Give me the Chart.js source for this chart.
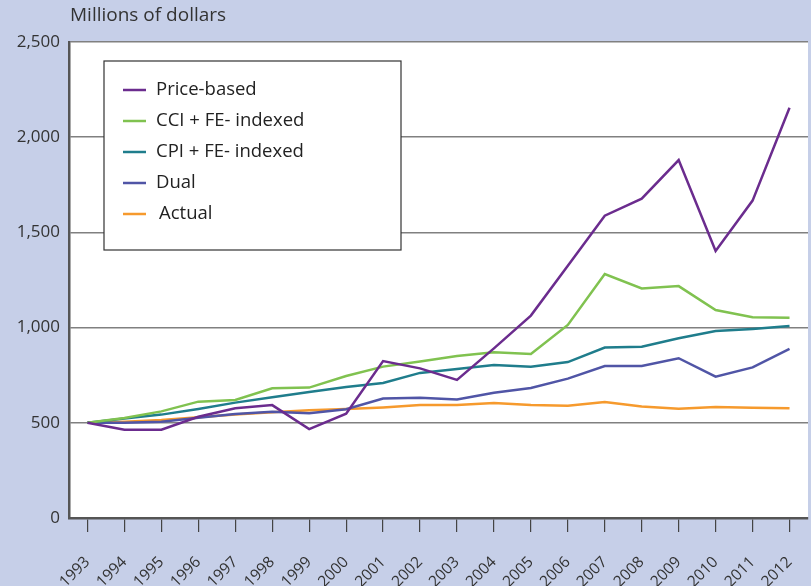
<!DOCTYPE html>
<html>
<head>
<meta charset="utf-8">
<script src="https://cdn.jsdelivr.net/npm/chart.js@4"></script>
<style>
    html, body { margin: 0; padding: 0; background: #c6cfe8; overflow: hidden; }
    #wrap { position: relative; width: 811px; height: 586px; }
</style>
</head>
<body>
<div id="wrap"><canvas id="chart" width="811" height="586"></canvas></div>
<script>
var years = ['1993', '1994', '1995', '1996', '1997', '1998', '1999', '2000', '2001', '2002',
    '2003', '2004', '2005', '2006', '2007', '2008', '2009', '2010', '2011', '2012'];

var priceBased = [500, 464, 464, 532, 576, 593, 467, 548, 824, 786,
    725, 891, 1063, 1325, 1588, 1677, 1880, 1402, 1667, 2155];
var cciIndexed = [500, 525, 560, 611, 620, 681, 685, 746, 795, 822,
    851, 870, 861, 1014, 1281, 1206, 1218, 1092, 1054, 1052];
var cpiIndexed = [500, 522, 543, 573, 606, 634, 662, 688, 709, 762,
    782, 804, 795, 819, 895, 900, 944, 982, 993, 1008];
var dual = [500, 500, 506, 527, 546, 558, 550, 571, 627, 632,
    622, 658, 683, 732, 798, 798, 839, 742, 791, 888];
var actual = [500, 506, 515, 529, 543, 555, 566, 572, 581, 593,
    594, 604, 593, 590, 609, 586, 574, 583, 579, 576];

var yTicks = [0, 500, 1000, 1500, 2000, 2500];

var FONT = '"Open Sans", "DejaVu Sans", sans-serif';

function series(label, data, color) {
    return {
        label: label,
        data: data,
        borderColor: color,
        backgroundColor: color,
        borderWidth: 2.5,
        pointRadius: 0,
        tension: 0,
        fill: false
    };
}

// white plot area, title above it and the boxed legend inside it
var decorations = {
    id: 'decorations',
    beforeDraw: function (chart) {
        var a = chart.chartArea;
        var ctx = chart.ctx;
        ctx.save();
        ctx.fillStyle = '#fff';
        ctx.fillRect(a.left, a.top, a.right - a.left, a.bottom - a.top);
        ctx.restore();
    },
    afterDraw: function (chart) {
        var ctx = chart.ctx;
        ctx.save();
        ctx.fillStyle = '#333';
        ctx.font = '19px ' + FONT;
        ctx.textBaseline = 'middle';
        ctx.fillText('Millions of dollars', 70, 16);

        var x0 = 104, y0 = 61, w = 297, h = 189;
        ctx.fillStyle = '#fff';
        ctx.fillRect(x0, y0, w, h);
        ctx.strokeStyle = '#333';
        ctx.lineWidth = 1.2;
        ctx.strokeRect(x0, y0, w, h);

        chart.data.datasets.forEach(function (ds, i) {
            var y = 90 + i * 31;
            ctx.strokeStyle = ds.borderColor;
            ctx.lineWidth = 2.5;
            ctx.beginPath();
            ctx.moveTo(123, y);
            ctx.lineTo(146, y);
            ctx.stroke();
            ctx.fillStyle = '#222';
            ctx.font = '18.5px ' + FONT;
            ctx.fillText(ds.label, i === 4 ? 159 : 156, y);
        });
        ctx.restore();
    }
};

var chart = new Chart(document.getElementById('chart'), {
    type: 'line',
    data: {
        labels: years,
        datasets: [
            series('Price-based', priceBased, '#6b2c8e'),
            series('CCI + FE- indexed', cciIndexed, '#80c250'),
            series('CPI + FE- indexed', cpiIndexed, '#1f7d8c'),
            series('Dual', dual, '#5055a6'),
            series('Actual', actual, '#f69a2d')
        ]
    },
    options: {
        responsive: false,
        animation: false,
        layout: { padding: { top: 42, right: 3, left: 0, bottom: 0 } },
        plugins: {
            legend: { display: false },
            tooltip: { enabled: false }
        },
        scales: {
            x: {
                offset: true,
                grid: {
                    display: true,
                    drawOnChartArea: false,
                    drawTicks: true,
                    tickLength: 14,
                    color: '#444',
                    lineWidth: 1.2,
                    offset: false
                },
                border: { color: '#555', width: 2.5 },
                ticks: {
                    autoSkip: false,
                    maxRotation: 45,
                    minRotation: 45,
                    padding: 21,
                    color: '#333',
                    font: { family: FONT, size: 15.5 }
                },
                afterFit: function (scale) {
                    scale.height = 68;
                    scale.paddingLeft = 0;
                    scale.paddingRight = 0;
                }
            },
            y: {
                min: 0,
                max: 2500,
                afterBuildTicks: function (scale) {
                    scale.ticks = yTicks.map(function (v) { return { value: v }; });
                },
                grid: {
                    color: '#808080',
                    lineWidth: 1.5,
                    drawTicks: false
                },
                border: { color: '#555', width: 2.5 },
                ticks: {
                    padding: 9,
                    color: '#333',
                    font: { family: FONT, size: 17 }
                },
                afterFit: function (scale) { scale.width = 69; }
            }
        }
    },
    plugins: [decorations]
});
</script>
</body>
</html>
